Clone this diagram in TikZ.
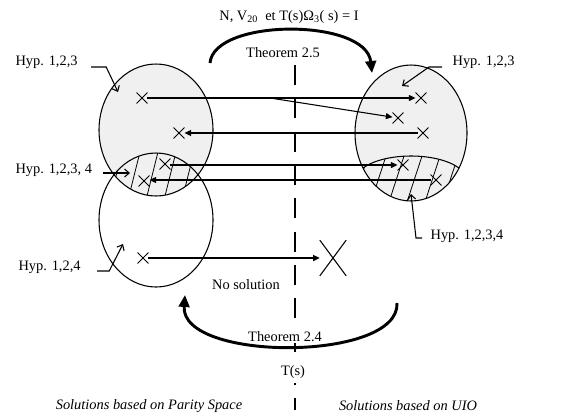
\documentclass[tikz,border=0pt]{standalone}
\usepackage{fontspec}
\setmainfont{Liberation Serif}
\usetikzlibrary{arrows.meta,shapes.misc}
\definecolor{regionfill}{RGB}{240,240,240}

\begin{document}
\begin{tikzpicture}[x=0.75pt,y=-0.75pt]
\tikzset{
  region/.style={draw=black,line width=0.8pt},
  hatchline/.style={draw=black,line width=0.6pt},
  xmark/.style={cross out,draw=black,line width=0.7pt,minimum size=7.5pt,inner sep=0pt},
  bigxmark/.style={cross out,draw=black,line width=0.8pt,minimum width=19pt,minimum height=26pt,inner sep=0pt},
  maparrow/.style={draw=black,line width=0.8pt,-{Triangle[length=5pt,width=4.5pt]}},
  hyparrow/.style={draw=black,line width=0.8pt,-{Straight Barb[length=3.5pt,width=6pt]}},
  theoarrow/.style={draw=black,line width=2.2pt,-{Triangle[length=9pt,width=8pt]}},
  divider/.style={draw=black,line width=2.2pt,dash pattern=on 15pt off 10pt},
  lbl/.style={font=\fontsize{10.8}{13}\selectfont,inner sep=1pt},
  side/.style={lbl,font=\fontsize{10.8}{13}\selectfont\itshape}
}
\useasboundingbox (0,0) rectangle (563,419);
% solution sets
\fill[regionfill] (156,130) ellipse [x radius=57,y radius=66];
\fill[regionfill] (411,133) ellipse [x radius=56,y radius=68];
% hatched parts
\begin{scope}
  \clip (156,130) ellipse [x radius=57,y radius=66];
  \clip (156,220) ellipse [x radius=57,y radius=67];
  \foreach \x in {92,110,...,218}
    \draw[hatchline] (\x,200) -- ++(13,-52);
\end{scope}
\begin{scope}
  \clip (411,133) ellipse [x radius=56,y radius=68];
  \clip (363,168) .. controls (385,152) and (437,152) .. (459,168) -- (470,210) -- (350,210) -- cycle;
  \foreach \x in {352,370,...,470}
    \draw[hatchline] (\x,205) -- ++(17,-52);
\end{scope}
\draw[region] (156,130) ellipse [x radius=57,y radius=66];
\draw[region] (156,220) ellipse [x radius=57,y radius=67];
\draw[region] (411,133) ellipse [x radius=56,y radius=68];
\draw[region] (363,168) .. controls (385,152) and (437,152) .. (459,168);

% separation
\coordinate (divtop) at (295,65);
\coordinate (divbot) at (295,410);
\draw[divider] (divtop) -- (divbot);

% points
\node[xmark] (ps1) at (142,98) {};
\node[xmark] (ps2) at (179,133) {};
\node[xmark] (ps3) at (165,164) {};
\node[xmark] (ps4) at (144,181) {};
\node[xmark] (ps5) at (143,258) {};
\node[xmark] (uio1) at (421,98) {};
\node[xmark] (uio2) at (398,118) {};
\node[xmark] (uio3) at (423,133) {};
\node[xmark] (uio4) at (403,165) {};
\node[xmark] (uio5) at (436,180) {};
\node[bigxmark] (nosol) at (333,258) {};
\coordinate (split) at (270,98);

\draw[maparrow] (ps1) -- (uio1);
\draw[maparrow] (split) -- (uio2);
\draw[maparrow] (uio3) -- (ps2);
\draw[maparrow] (ps3.east |- uio4) -- (uio4);
\draw[maparrow] (uio5) -- (ps4.east |- uio5);
\draw[maparrow] (ps5) -- (nosol);

% theorems
\coordinate (th5a) at (210,63);
\coordinate (th5b) at (372,73);
\draw[theoarrow] (th5a) .. controls (214,18) and (366,18) .. (th5b);
\coordinate (th4a) at (397,303);
\coordinate (th4b) at (185,295);
\draw[theoarrow] (th4a) .. controls (400,362) and (180,362) .. (th4b);

% labels
\node[lbl] (cond) at (289,17) {N, V\textsubscript{20}\ \ et T(s)Ω\textsubscript{3}( s) = I};
\node[lbl] (th5) at (283,53) {Theorem 2.5};
\node[lbl,fill=white] (th4) at (285,337) {Theorem 2.4};
\node[lbl,fill=white,inner sep=3pt] (ts) at (293,372) {T(s)};
\node[lbl] (nosoltxt) at (246,285) {No solution};
\node[side] (psside) at (149,406) {Solutions based on Parity Space};
\node[side] (uioside) at (408,406) {Solutions based on UIO};

\node[lbl,anchor=west] (hypA) at (14,62) {Hyp. 1,2,3};
\node[lbl,anchor=west] (hypB) at (451,62) {Hyp. 1,2,3};
\node[lbl,anchor=west] (hypC) at (14,170) {Hyp. 1,2,3, 4};
\node[lbl,anchor=west] (hypD) at (17,267) {Hyp. 1,2,4};
\node[lbl,anchor=west] (hypE) at (429,236) {Hyp. 1,2,3,4};
\coordinate (tA) at (118,92);
\coordinate (tB) at (402,86);
\coordinate (tC) at (130,173);
\coordinate (tD) at (123,244);
\coordinate (tE) at (411,194);
\draw[hyparrow] ([shift={(12,5)}]hypA.east) -- ++(15,0) -- (tA);
\draw[hyparrow] ([shift={(-9,5)}]hypB.west) -- ++(-13,0) -- (tB);
\draw[hyparrow] ([shift={(9,3)}]hypC.east) -- (tC);
\draw[hyparrow] ([shift={(15,4)}]hypD.east) -- ++(12,0) -- (tD);
\draw[hyparrow] ([shift={(-7,2)}]hypE.west) -- ++(-6,0) -- (tE);
\end{tikzpicture}
\end{document}
